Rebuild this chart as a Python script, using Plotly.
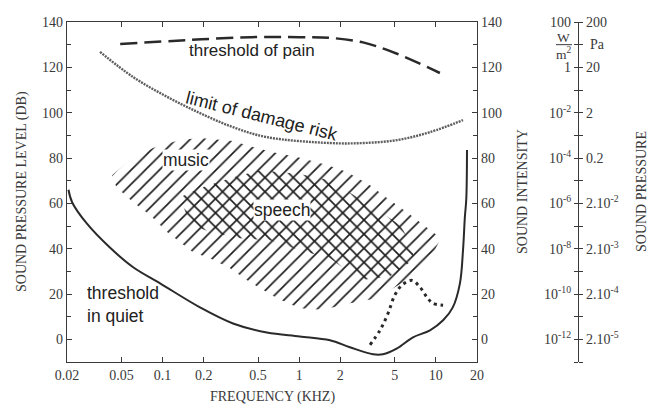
import math
import plotly.graph_objects as go

# ---------------- data ----------------
freq_ticks = [0.02, 0.05, 0.1, 0.2, 0.5, 1, 2, 5, 10, 20]
freq_tick_labels = ["0.02", "0.05", "0.1", "0.2", "0.5", "1", "2", "5", "10", "20"]
db_ticks = [0, 20, 40, 60, 80, 100, 120, 140]
db_minor = [-10, 10, 30, 50, 70, 90, 110, 130]
intensity_labels = ["10<sup>-12</sup>", "10<sup>-10</sup>", "10<sup>-8</sup>", "10<sup>-6</sup>",
                    "10<sup>-4</sup>", "10<sup>-2</sup>", "1", "100"]
pressure_labels = ["2.10<sup>-5</sup>", "2.10<sup>-4</sup>", "2.10<sup>-3</sup>", "2.10<sup>-2</sup>",
                   "0.2", "2", "20", "200"]

quiet_f = [0.0205, 0.0218, 0.028, 0.041, 0.061, 0.096, 0.188, 0.328, 0.58, 1.01, 1.68, 2.35,
           3.47, 4.1, 5.2, 6.8, 9.06, 11.3, 13.3, 15.0, 15.8, 16.3, 16.7, 16.9]
quiet_db = [66, 60.5, 51, 40.6, 31.8, 24.7, 14.1, 7, 3, 1.3, -0.4, -3.5,
            -6.6, -6.6, -4, 0.9, 4, 8.4, 14.1, 24.7, 39.3, 53.9, 62, 83.5]

damage_f = [0.0349, 0.061, 0.108, 0.188, 0.328, 0.58, 1.68, 2.93, 5.2, 9.06, 15.8]
damage_db = [126.8, 115.7, 107, 99.8, 93.6, 89.2, 86.6, 86.6, 87.9, 91.4, 96.7]

pain_f = [0.049, 0.151, 0.437, 1.01, 1.68, 2.93, 5.2, 10.7]
pain_db = [130.3, 132, 133.3, 133.3, 133, 131, 126, 117.5]

mask_f = [3.30, 3.9, 4.47, 5.0, 5.65, 6.68, 7.66, 8.6, 9.5, 11.3]
mask_db = [-2.4, 4, 11.5, 19.4, 23.9, 26, 23, 18.6, 15.9, 15]

music_f = [0.0427, 0.0578, 0.085, 0.134, 0.188, 0.328, 0.437, 0.643, 0.964, 1.60, 2.24, 3.30,
           4.39, 6.15, 10.2, 10.7, 8.6, 5.75, 3.71, 2.35, 1.49, 1.01, 0.69, 0.437, 0.312,
           0.222, 0.167, 0.108, 0.081, 0.061, 0.046]
music_db = [72.4, 79, 84.4, 87.9, 88.8, 87.5, 85.2, 82.5, 80.4, 76.9, 73.8, 68,
            62.3, 56.1, 45.9, 43.7, 32.7, 25.2, 18.1, 15.9, 13, 13.7, 18.1, 25.2, 31.4,
            35.8, 38.4, 47.3, 54.8, 60.5, 67.1]

speech_f = [0.134, 0.188, 0.312, 0.517, 1.01, 1.68, 3.30, 5.47, 7.04, 6.47, 4.62, 2.79,
            1.68, 1.01, 0.61, 0.369, 0.222, 0.159]
speech_db = [62.7, 66.7, 71.1, 74.6, 72.9, 70.2, 59.2, 50.4, 39.3, 34, 27.8, 26.1,
             35.8, 39.3, 43.7, 44.6, 47.3, 50.8]

# ---------------- layout geometry ----------------
W, H = 655, 407
x0, x1 = 67 / W, 477 / W
y0, y1 = 1 - 362 / H, 1 - 22 / H
ax3_pos = 578 / W

SERIF = "Liberation Serif, Times New Roman, serif"
SANS = "Liberation Sans, Arial, sans-serif"
AXC = "#3a3a3a"
LINEC = "#2a2a2a"
HATCH = "#1e1e1e"

fig = go.Figure()

# hatched regions
fig.add_trace(go.Scatter(
    x=music_f, y=music_db, mode="lines", fill="toself",
    line=dict(width=0, color="rgba(0,0,0,0)"),
    fillcolor="rgba(0,0,0,0)",
    fillpattern=dict(shape="/", fgcolor=HATCH, size=10, solidity=0.17),
    hoverinfo="skip", showlegend=False))
fig.add_trace(go.Scatter(
    x=speech_f, y=speech_db, mode="lines", fill="toself",
    line=dict(width=0, color="rgba(0,0,0,0)"),
    fillcolor="rgba(0,0,0,0)",
    fillpattern=dict(shape="\\", fgcolor=HATCH, size=10, solidity=0.17),
    hoverinfo="skip", showlegend=False))

# curves
fig.add_trace(go.Scatter(x=quiet_f, y=quiet_db, mode="lines", line_shape="spline",
                         line=dict(color=LINEC, width=2), showlegend=False))
fig.add_trace(go.Scatter(x=damage_f, y=damage_db, mode="lines", line_shape="spline",
                         line=dict(color="#5e5e5e", width=2.4, dash="2px,1px"), showlegend=False))
fig.add_trace(go.Scatter(x=pain_f, y=pain_db, mode="lines", line_shape="spline",
                         line=dict(color=LINEC, width=2.5, dash="17px,7px"), showlegend=False))
fig.add_trace(go.Scatter(x=mask_f, y=mask_db, mode="lines", line_shape="spline",
                         line=dict(color=LINEC, width=3, dash="3px,4px"), showlegend=False))

# invisible traces to activate the extra axes
fig.add_trace(go.Scatter(x=[None], y=[None], yaxis="y2", showlegend=False))
fig.add_trace(go.Scatter(x=[None], y=[None], yaxis="y3", showlegend=False))
fig.add_trace(go.Scatter(x=[None], y=[None], yaxis="y4", showlegend=False))

tickfont = dict(family=SERIF, size=14, color=AXC)
yrange = [-10, 140]

fig.update_layout(
    width=W, height=H, template="none",
    margin=dict(l=0, r=0, t=0, b=0),
    paper_bgcolor="white", plot_bgcolor="white",
    showlegend=False,
    xaxis=dict(type="log", range=[math.log10(0.02), math.log10(20)], domain=[x0, x1],
               tickvals=freq_ticks, ticktext=freq_tick_labels, ticks="inside", ticklen=5,
               tickcolor=AXC, showline=True, linecolor=AXC, linewidth=1.2, mirror="ticks",
               showgrid=False, zeroline=False, tickfont=tickfont, automargin=False),
    yaxis=dict(range=yrange, domain=[y0, y1], tickvals=db_ticks, ticks="inside", ticklen=5,
               tickcolor=AXC, showline=True, linecolor=AXC, linewidth=1.2,
               minor=dict(tickvals=db_minor, ticks="inside", ticklen=4, tickcolor=AXC),
               showgrid=False, zeroline=False, tickfont=tickfont, automargin=False),
    yaxis2=dict(range=yrange, overlaying="y", side="right", anchor="x", tickvals=db_ticks,
                ticks="inside", ticklen=5, tickcolor=AXC, showline=True, linecolor=AXC,
                linewidth=1.2,
                minor=dict(tickvals=db_minor, ticks="inside", ticklen=4, tickcolor=AXC),
                showgrid=False, zeroline=False, tickfont=tickfont, automargin=False),
    yaxis3=dict(range=yrange, overlaying="y", side="left", anchor="free", position=ax3_pos,
                tickvals=db_ticks, ticktext=intensity_labels, ticks="outside", ticklen=4,
                tickcolor=AXC, showline=True, linecolor=AXC, linewidth=1.2,
                minor=dict(tickvals=db_minor, ticks="outside", ticklen=4, tickcolor=AXC),
                showgrid=False, zeroline=False, tickfont=tickfont, automargin=False),
    yaxis4=dict(range=yrange, overlaying="y", side="right", anchor="free", position=ax3_pos,
                tickvals=db_ticks, ticktext=pressure_labels, ticks="outside", ticklen=4,
                tickcolor=AXC, showline=True, linecolor=AXC, linewidth=1.2,
                minor=dict(tickvals=db_minor, ticks="outside", ticklen=4, tickcolor=AXC),
                showgrid=False, zeroline=False, tickfont=tickfont, automargin=False),
)

lab = dict(family=SANS, size=17, color="#222")
ann = [
    dict(x=math.log10(0.452), y=127.6, text="threshold of pain", font=lab),
    dict(x=math.log10(0.53), y=98.5, text="limit of damage risk",
         font=dict(family=SANS, size=18, color="#222"), textangle=14),
    dict(x=math.log10(0.148), y=79, text="music", font=dict(family=SANS, size=17.5, color="#222"),
         bgcolor="white", borderpad=0),
    dict(x=math.log10(0.75), y=57, text="speech", font=dict(family=SANS, size=17.5, color="#222"),
         bgcolor="white", borderpad=0),
    dict(x=math.log10(0.0273), y=15.5, text="threshold<br>in quiet",
         font=dict(family=SANS, size=17.5, color="#222"), xanchor="left", align="left"),
]
for a in ann:
    a.update(xref="x", yref="y", showarrow=False)
    a.setdefault("xanchor", "center")
    fig.add_annotation(**a)

ttl = dict(family=SERIF, size=14, color=AXC)
paper_ann = [
    dict(x=22 / W, y=1 - 192 / H, text="SOUND PRESSURE LEVEL (DB)", textangle=-90),
    dict(x=522 / W, y=1 - 192 / H, text="SOUND INTENSITY", textangle=-90),
    dict(x=641 / W, y=1 - 192 / H, text="SOUND PRESSURE", textangle=-90),
    dict(x=272 / W, y=1 - 397 / H, text="FREQUENCY (KHZ)"),
]
for a in paper_ann:
    fig.add_annotation(xref="paper", yref="paper", showarrow=False, font=ttl,
                       xanchor="center", yanchor="middle", **a)

# unit labels on the third axis (at 130 dB)
unit = dict(family=SERIF, size=13.5, color=AXC)
fig.add_annotation(xref="paper", yref="y", x=563.5 / W, y=130, yshift=7.5, text="W",
                   showarrow=False, font=unit, xanchor="center", yanchor="middle")
fig.add_annotation(xref="paper", yref="y", x=563.5 / W, y=130, yshift=-8.5, text="m<sup>2</sup>",
                   showarrow=False, font=unit, xanchor="center", yanchor="middle")
fig.add_annotation(xref="paper", yref="y", x=588 / W, y=130, text="Pa",
                   showarrow=False, font=ttl, xanchor="left", yanchor="middle")
fig.add_shape(type="line", xref="paper", yref="y", x0=556 / W, x1=572 / W, y0=130, y1=130,
              line=dict(color=AXC, width=1))

fig.write_html("out.html", config={"displayModeBar": False},
               post_script="document.body.style.margin='0px';")
